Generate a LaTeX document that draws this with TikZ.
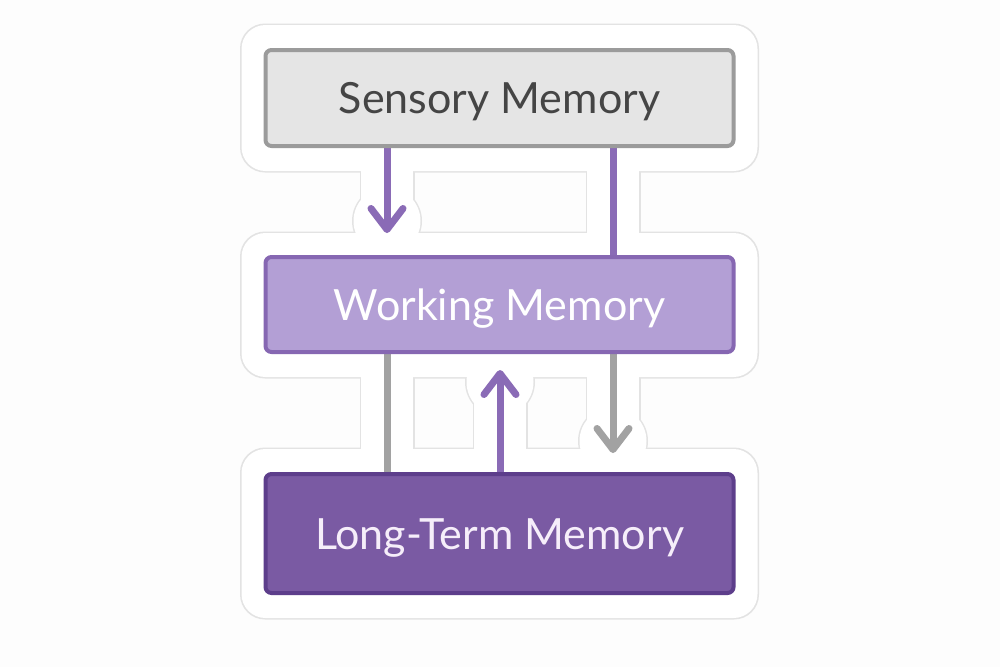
\documentclass[tikz,border=0pt]{standalone}
\usepackage{fontspec}
\setmainfont{Lato}
\usetikzlibrary{arrows.meta,backgrounds}
\pgfdeclarelayer{canvas}
\pgfsetlayers{canvas,background,main}
\definecolor{smfill}{HTML}{E5E5E5}
\definecolor{smdraw}{HTML}{9B9B9B}
\definecolor{smtext}{HTML}{454545}
\definecolor{wmfill}{HTML}{B39FD5}
\definecolor{wmdraw}{HTML}{8667B2}
\definecolor{ltfill}{HTML}{7A5AA3}
\definecolor{ltdraw}{HTML}{5D3E8B}
\definecolor{lttext}{HTML}{F6EEFA}
\definecolor{purp}{HTML}{8A6BB6}
\definecolor{gry}{HTML}{A2A2A2}
\definecolor{stk}{HTML}{E3E3E3}
\definecolor{paper}{HTML}{FDFDFD}
\tikzset{
  membox/.style={rectangle, rounded corners=6pt, line width=4pt,
    minimum width=468pt, inner sep=0pt, text height=31pt, text depth=0pt,
    font=\fontsize{43}{50}\selectfont},
  conn/.style={line width=7pt},
  tipv/.style={-{Straight Barb[length=21pt,width=32pt,round]}},
  stickout/.style={fill=stk, rounded corners=25pt},
  stickin/.style={fill=white, rounded corners=24pt},
}
\begin{document}
\begin{tikzpicture}[x=1pt,y=-1pt]
\begin{pgfonlayer}{canvas}
\fill[paper] (0,0) rectangle (1000,667);
\end{pgfonlayer}
\useasboundingbox (0,0) rectangle (1000,667);

\node[membox, fill=smfill, draw=smdraw, text=smtext, minimum height=96pt] (sm) at (499.5,98) {Sensory Memory};
\node[membox, fill=wmfill, draw=wmdraw, text=white, minimum height=95pt] (wm) at (499.5,304.5) {Working Memory};
\node[membox, fill=ltfill, draw=ltdraw, text=lttext, minimum height=119pt] (lt) at (499.5,533.5) {Long-Term Memory};

% connector end points
\coordinate (a1) at ([xshift=-112.5pt]sm.south);
\coordinate (a2) at ([xshift=-112.5pt]wm.north);
\coordinate (b1) at ([xshift=113.5pt]sm.south);
\coordinate (b2) at ([xshift=113.5pt]wm.north);
\coordinate (c1) at ([xshift=-112.5pt]wm.south);
\coordinate (c2) at ([xshift=-112.5pt]lt.north);
\coordinate (d1) at ([xshift=0.5pt]lt.north);
\coordinate (d2) at ([xshift=0.5pt]wm.south);
\coordinate (e1) at ([xshift=113.5pt]wm.south);
\coordinate (e2) at ([xshift=113.5pt]lt.north);

\begin{scope}[on background layer]
  % sticker outline
  \foreach \n/\t/\b in {sm/23/23, wm/22/23, lt/23/23} {
    \fill[stickout] ([shift={(-23.5pt,\t pt+1.5pt)}]\n.north west) rectangle ([shift={(23.5pt,-\b pt-1.5pt)}]\n.south east);
  }
  \foreach \p/\q in {a1/a2, b1/b2, c1/c2, d1/d2, e1/e2} {
    \draw[stk, line width=55pt] (\p) -- (\q);
  }
  \fill[stk] ([yshift=34pt]a2) circle (35pt);
  \fill[stk] ([yshift=-28pt]d2) circle (35pt);
  \fill[stk] ([yshift=31pt]e2) circle (35pt);
  % sticker body
  \foreach \n/\t/\b in {sm/23/23, wm/22/23, lt/23/23} {
    \fill[stickin] ([shift={(-22pt,\t pt)}]\n.north west) rectangle ([shift={(22pt,-\b pt)}]\n.south east);
  }
  \foreach \p/\q in {a1/a2, b1/b2, c1/c2, d1/d2, e1/e2} {
    \draw[white, line width=52pt] (\p) -- (\q);
  }
  \fill[white] ([yshift=34pt]a2) circle (33.5pt);
  \fill[white] ([yshift=-28pt]d2) circle (33.5pt);
  \fill[white] ([yshift=31pt]e2) circle (33.5pt);
  % connectors
  \draw[conn, purp, tipv, shorten >=22pt] (a1) -- (a2);
  \draw[conn, purp] (b1) -- (b2);
  \draw[conn, gry] (c1) -- (c2);
  \draw[conn, purp, tipv, shorten >=16pt] (d1) -- (d2);
  \draw[conn, gry, tipv, shorten >=19pt] (e1) -- (e2);
\end{scope}
\end{tikzpicture}
\end{document}
